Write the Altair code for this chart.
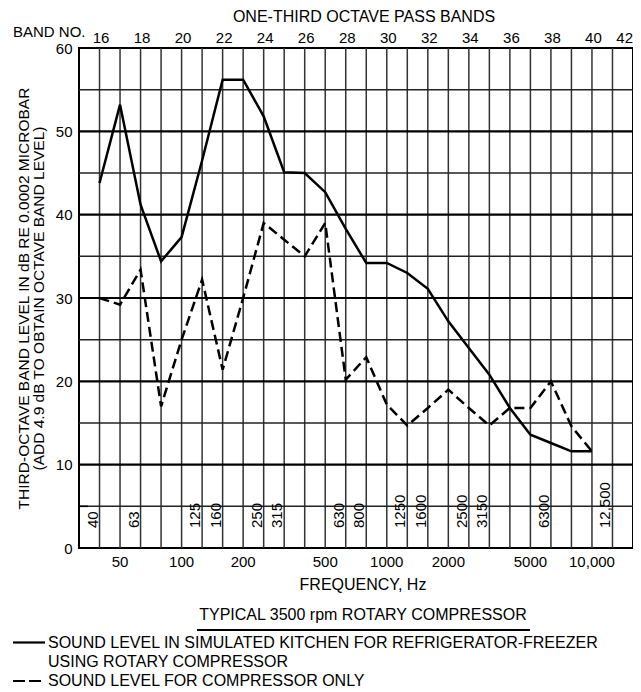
import altair as alt
import pandas as pd

# ---------------- data ----------------
bands = list(range(16, 41))
kitchen_level = [43.8, 53.2, 41.2, 34.4, 37.3, 46.5, 56.2, 56.2, 51.8, 45.1,
                 45.0, 42.7, 38.3, 34.2, 34.2, 33.0, 31.1, 27.2, 24.0, 20.8,
                 16.8, 13.6, 12.6, 11.6, 11.6]
compressor_level = [30.0, 29.2, 33.4, 17.0, 25.0, 32.2, 21.4, 30.0, 39.0, 37.0,
                    35.0, 39.0, 20.2, 22.9, 17.2, 14.7, 16.8, 19.0, 16.8, 14.7,
                    16.8, 16.8, 20.0, 14.6, 11.6]

top_band_numbers = list(range(16, 41, 2))
last_band_number = [42]
grid_bands = list(range(16, 42))
major_levels = [10, 20, 30, 40, 50]
minor_levels = [5, 15, 25, 35, 45, 55]
y_tick_values = [0, 10, 20, 30, 40, 50, 60]

bottom_freq_bands = [17, 20, 23, 27, 30, 33, 37, 40]
bottom_freq_labels = ["50", "100", "200", "500", "1000", "2000", "5000", "10,000"]

inner_freq_bands = [16, 18, 21, 22, 24, 25, 28, 29, 31, 32, 34, 35, 38, 41]
inner_freq_labels = ["40", "63", "125", "160", "250", "315", "630", "800",
                     "1250", "1600", "2500", "3150", "6300", "12,500"]

y_title = ["THIRD-OCTAVE BAND LEVEL IN dB RE 0.0002 MICROBAR",
           "(ADD 4.9 dB TO OBTAIN OCTAVE BAND LEVEL)"]
top_title = "ONE-THIRD OCTAVE PASS BANDS"
band_no_text = "BAND NO."
x_title = "FREQUENCY, Hz"
caption = "TYPICAL 3500 rpm ROTARY COMPRESSOR"
legend_lines = ["SOUND LEVEL IN SIMULATED KITCHEN FOR REFRIGERATOR-FREEZER",
                "USING ROTARY COMPRESSOR",
                "SOUND LEVEL FOR COMPRESSOR ONLY"]

# ---------------- chart ----------------
FONT = "Liberation Sans"
W, H = 554, 500
xs = alt.Scale(domain=[15, 42], nice=False, zero=False)
ys = alt.Scale(domain=[0, 60], nice=False, zero=True)

y_axis = alt.Axis(
    values=y_tick_values, ticks=False, domain=False, grid=False,
    labelFont=FONT, labelFontSize=15, labelColor="black", labelPadding=7,
    title=y_title, titleFont=FONT, titleFontSize=15.5, titleFontWeight="normal",
    titleColor="black", titleAngle=270, titleAlign="center",
    titleBaseline="middle", titleLineHeight=15, titleX=-56, titleY=H / 2)

one = pd.DataFrame({"k": [0]})

def X(field="band"):
    return alt.X(f"{field}:Q", scale=xs, axis=None)

def Y(field="level"):
    return alt.Y(f"{field}:Q", scale=ys, axis=y_axis)

vgrid = alt.Chart(pd.DataFrame({"band": grid_bands})).mark_rule(
    color="#333333", strokeWidth=1.5).encode(x=X())

minor_grid = alt.Chart(pd.DataFrame({"level": minor_levels})).mark_rule(
    color="#222222", strokeWidth=1.5).encode(y=Y())

major_grid = alt.Chart(pd.DataFrame({"level": major_levels})).mark_rule(
    color="black", strokeWidth=2.2).encode(y=Y())

small_tick = alt.Chart(pd.DataFrame({"level": [5]})).mark_rule(
    color="black", strokeWidth=1.5).encode(y=Y(), x=alt.value(0), x2=alt.value(9))

kitchen = alt.Chart(pd.DataFrame({"band": bands, "level": kitchen_level})).mark_line(
    color="black", strokeWidth=2.5).encode(x=X(), y=Y())

compressor = alt.Chart(pd.DataFrame({"band": bands, "level": compressor_level})).mark_line(
    color="black", strokeWidth=2.5, strokeDash=[10, 5]).encode(x=X(), y=Y())

top_labels = alt.Chart(pd.DataFrame({"band": top_band_numbers})).mark_text(
    font=FONT, fontSize=15, color="black", baseline="middle", align="center", xOffset=1.5
).encode(x=X(), y=alt.value(-10), text=alt.Text("band:Q", format="d"))

top_last = alt.Chart(pd.DataFrame({"band": last_band_number})).mark_text(
    font=FONT, fontSize=15, color="black", baseline="middle", align="right", xOffset=0
).encode(x=X(), y=alt.value(-10), text=alt.Text("band:Q", format="d"))

bottom_labels = alt.Chart(pd.DataFrame({"band": bottom_freq_bands, "label": bottom_freq_labels})).mark_text(
    font=FONT, fontSize=15, color="black", baseline="middle", align="center"
).encode(x=X(), y=alt.value(H + 14), text="label:N")

inner_labels = alt.Chart(pd.DataFrame({"band": inner_freq_bands, "label": inner_freq_labels})).mark_text(
    font=FONT, fontSize=15, color="black", angle=270, align="left", baseline="alphabetic", xOffset=-2
).encode(x=X(), y=alt.value(480), text="label:N")

def label(text, x, y, align="left", size=16):
    return alt.Chart(one).mark_text(font=FONT, fontSize=size, color="black",
                                    align=align, baseline="middle").encode(
        x=alt.value(x), y=alt.value(y), text=alt.value(text))

def seg(x1, x2, y, dash=None, width=2.2):
    kw = dict(color="black", strokeWidth=width)
    if dash:
        kw["strokeDash"] = dash
    return alt.Chart(one).mark_rule(**kw).encode(
        x=alt.value(x1), x2=alt.value(x2), y=alt.value(y))

texts = [
    label(top_title, 285, -31, align="center"),
    label(band_no_text, -66, -16, size=15),
    label(x_title, 284, H + 37, align="center"),
    label(caption, 284, H + 67, align="center"),
    label(legend_lines[0], -31, H + 94.5),
    label(legend_lines[1], -31, H + 113.5),
    label(legend_lines[2], -31, H + 133),
]
segs = [
    seg(118, 451, H + 82, width=2),
    seg(-66, -34, H + 94.5),
    seg(-66, -34, H + 133, dash=[12, 4]),
]

chart = alt.layer(
    vgrid, minor_grid, major_grid, small_tick, kitchen, compressor,
    top_labels, top_last, bottom_labels, inner_labels, *texts, *segs
).properties(
    width=W, height=H,
    autosize=alt.AutoSizeParams(type="none"),
    padding={"left": 71, "top": 40, "right": 0, "bottom": 143},
    background="white",
).configure_view(stroke="black", strokeWidth=2)

chart.save("out.html", embed_options={"renderer": "svg", "actions": False})
